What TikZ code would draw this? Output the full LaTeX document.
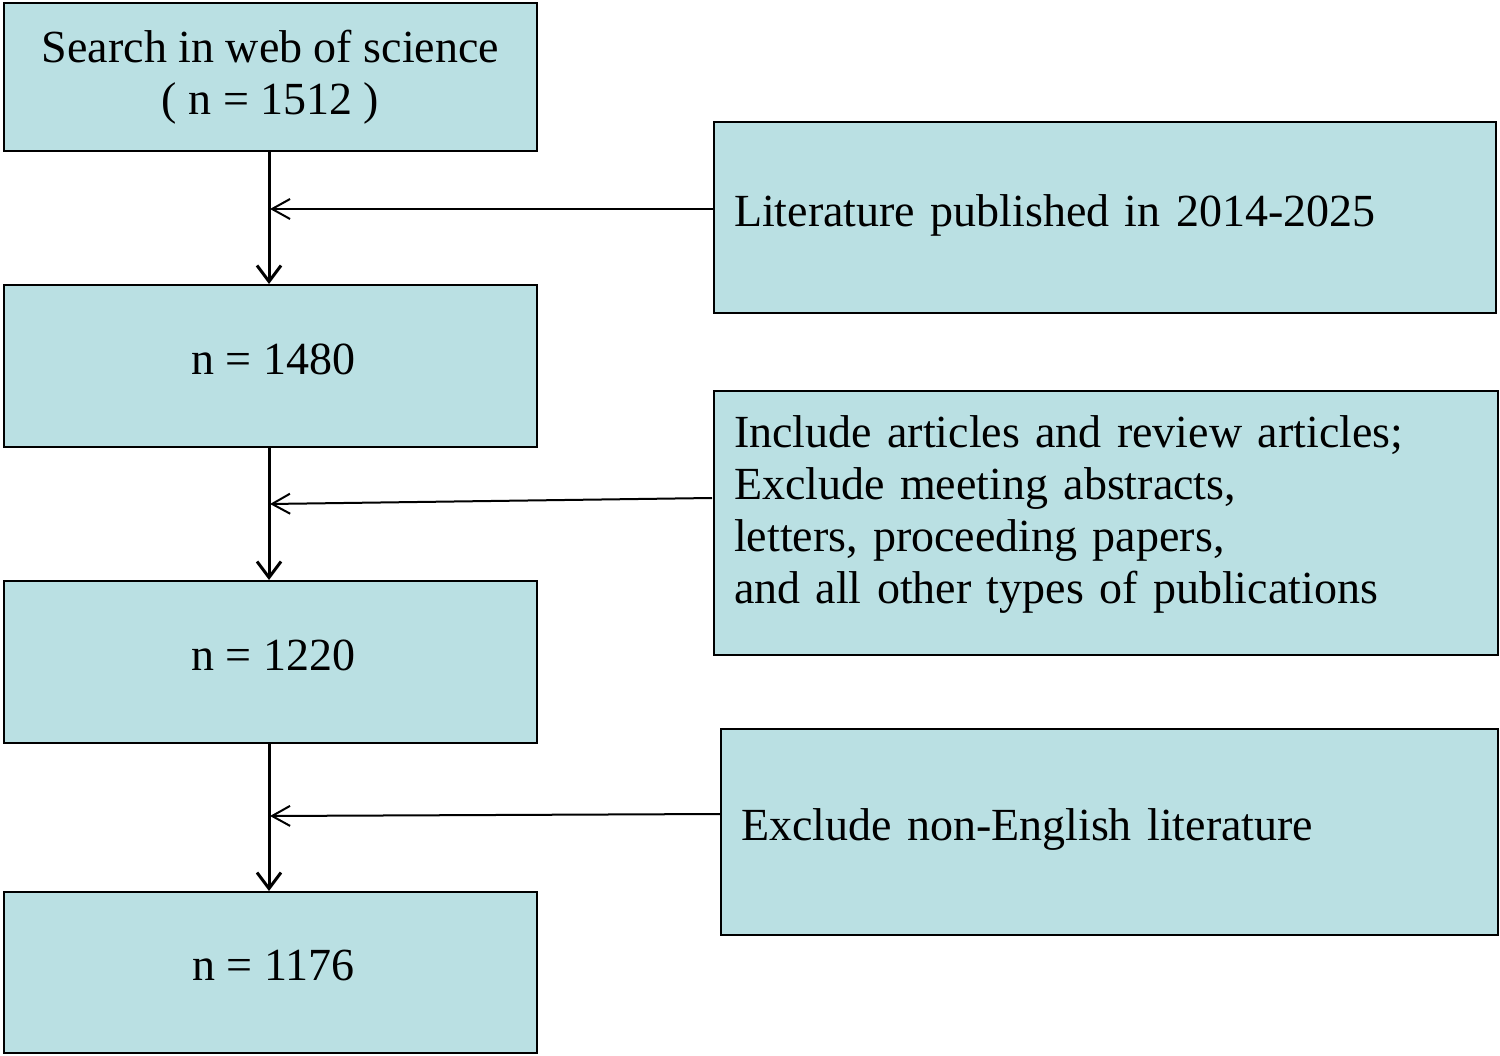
\documentclass[tikz,border=0pt]{standalone}
\usepackage{fontspec}
\setmainfont{Liberation Serif}
\usetikzlibrary{arrows.meta}
\definecolor{boxfill}{RGB}{186,224,227}
\tikzset{
  box/.style={draw=black, fill=boxfill, line width=2pt, anchor=north west, inner sep=0pt,
    font=\fontsize{46pt}{52pt}\selectfont},
  leftbox/.style={box, align=left, inner xsep=20pt},
  vflow/.style={line width=3pt, -{Straight Barb[length=16pt,width=24pt,line width=3pt]}},
  hflow/.style={line width=2pt, -{Straight Barb[length=18pt,width=20pt,line width=2pt]}},
}
\begin{document}
\begin{tikzpicture}[x=1pt,y=-1pt]
\useasboundingbox (0,0) rectangle (1500,1056);
\node[box, align=center, minimum width=533pt, minimum height=148pt] (b1) at (3,2)
  {Search in web of science\\( n = 1512 )};
\node[box, minimum width=533pt, minimum height=162pt, text depth=14pt, inner xsep=3pt] (b2) at (3,284) {\hspace*{6pt}n = 1480};
\node[box, minimum width=533pt, minimum height=162pt, text depth=14pt, inner xsep=3pt] (b3) at (3,580) {\hspace*{6pt}n = 1220};
\node[box, minimum width=533pt, minimum height=161pt, text depth=14pt, inner xsep=3pt] (b4) at (3,891) {\hspace*{6pt}n = 1176};
\node[leftbox, minimum width=782pt, minimum height=191pt, text width=742pt, text depth=14pt] (ra) at (713,121)
  {Literature published in 2014-2025};
\node[leftbox, minimum width=784pt, minimum height=264pt, text width=744pt, text depth=182pt] (rb) at (713,390)
  {Include articles and review articles;\\Exclude meeting abstracts,\\letters, proceeding papers,\\and all other types of publications};
\node[leftbox, minimum width=777pt, minimum height=206pt, text width=737pt, text depth=14pt] (rc) at (720,728)
  {Exclude non-English literature};
\coordinate (sa) at (713,209);
\coordinate (ja) at (270,209);
\coordinate (sb) at (712,498);
\coordinate (jb) at (270,504);
\coordinate (sc) at (720,814);
\coordinate (jc) at (270,816);
\draw[vflow] (b1.south -| 269,0) -- (b2.north -| 269,0);
\draw[vflow] (b2.south -| 269,0) -- (b3.north -| 269,0);
\draw[vflow] (b3.south -| 269,0) -- (b4.north -| 269,0);
\draw[hflow] (sa) -- (ja);
\draw[hflow] (sb) -- (jb);
\draw[hflow] (sc) -- (jc);
\end{tikzpicture}
\end{document}
